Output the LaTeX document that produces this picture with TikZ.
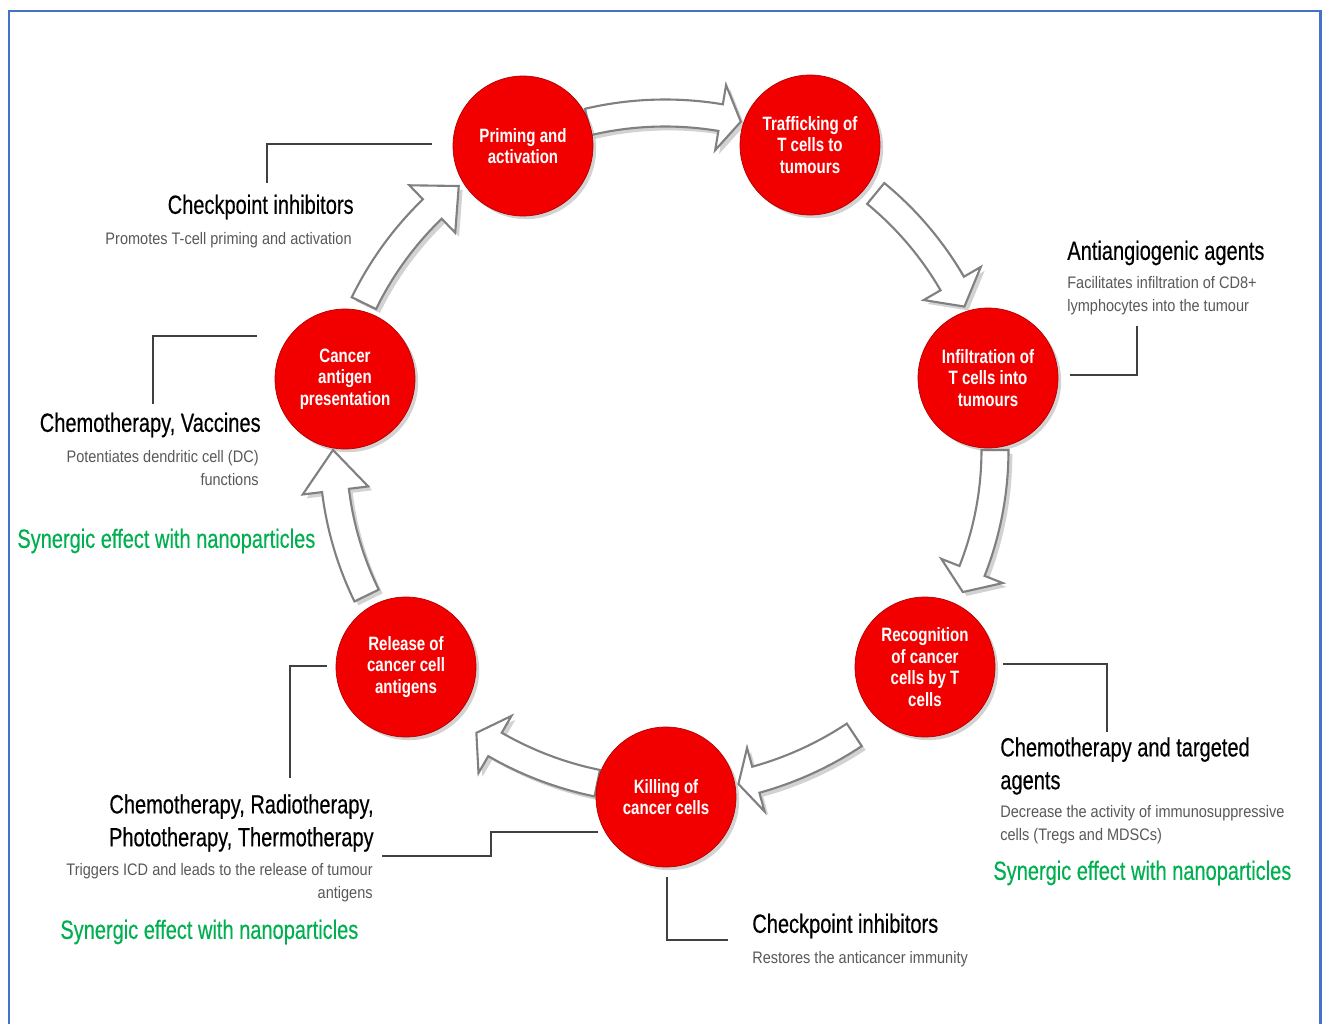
\documentclass[tikz,border=0pt]{standalone}
\usepackage{fontspec}
\setmainfont{Liberation Sans}
\newfontfamily\headfont{Liberation Sans}[FakeStretch=0.76,FakeBold=0.35]
\newfontfamily\descfont{Liberation Sans}[FakeStretch=0.87]
\newfontfamily\circfont{Liberation Sans}[FakeStretch=0.78]
\usetikzlibrary{shadows}
\definecolor{bordblue}{HTML}{4472C4}
\definecolor{cellred}{HTML}{F20000}
\definecolor{syngreen}{HTML}{00B050}
\definecolor{descgray}{HTML}{595959}
\definecolor{linegray}{HTML}{404040}
\definecolor{arrowgray}{HTML}{808080}
\newcommand{\cyclearrow}[4]{%
  \path[blockarr] plot[domain=#2:#3, samples=30] ({665+(#1+13.5)*cos(\x)},{450+(#1+13.5)*sin(\x)})
   -- ({665+(#1+33)*cos(#3)},{450+(#1+33)*sin(#3)})
   -- ({665+(#1)*cos(#4)},{450+(#1)*sin(#4)})
   -- ({665+(#1-33)*cos(#3)},{450+(#1-33)*sin(#3)})
   -- plot[domain=#3:#2, samples=30] ({665+(#1-13.5)*cos(\x)},{450+(#1-13.5)*sin(\x)}) -- cycle;}
\begin{document}
\begin{tikzpicture}[x=0.02cm,y=-0.02cm,
 cell/.style={circle, fill=cellred, draw=red!70!black, line width=0.4pt, minimum size=2.8cm, inner sep=0pt, align=center, text=white, font=\circfont\bfseries\fontsize{11}{12.3}\selectfont, drop shadow={opacity=0.35, shadow xshift=1.8pt, shadow yshift=-1.8pt}},
 blockarr/.style={fill=white, draw=arrowgray, line width=1.2pt, line join=miter, drop shadow={opacity=0.35, shadow xshift=2.2pt, shadow yshift=-2.2pt}},
 heading/.style={inner sep=0pt, font=\headfont\fontsize{15}{18.7}\selectfont},
 desc/.style={inner sep=0pt, text=descgray, font=\descfont\fontsize{9.5}{13}\selectfont},
 syn/.style={inner sep=0pt, text=syngreen, font=\headfont\fontsize{15}{18}\selectfont},
 conn/.style={draw=linegray, line width=1.1pt}
]
\useasboundingbox (0,0) rectangle (1322,1024);
\fill[white] (0,0) rectangle (1322,1024);
\draw[bordblue, line width=1.7pt] (9,1024) -- (9,11) -- (1320,11) -- (1320,1024);

% block arrows
\cyclearrow{337}{256.8}{279.5}{283}
\cyclearrow{332}{309.4}{329.9}{334.4}
\cyclearrow{330}{360}{381.5}{385.5}
\cyclearrow{342}{56.4}{74.6}{77.6}
\cyclearrow{340}{101.5}{120}{123.7}
\cyclearrow{332}{154}{173}{180}
\cyclearrow{335}{206}{226}{232}

% cells
\node[cell] (prime) at (523,146) {Priming and\\activation};
\node[cell] (traf) at (810,145) {Trafficking of\\T cells to\\tumours};
\node[cell] (infil) at (988,378) {Infiltration of\\T cells into\\tumours};
\node[cell] (recog) at (925,667) {Recognition\\of cancer\\cells by T\\cells};
\node[cell] (kill) at (666,797) {Killing of\\cancer cells};
\node[cell] (rel) at (406,667) {Release of\\cancer cell\\antigens};
\node[cell] (pres) at (345,379) {Cancer\\antigen\\presentation};

% labels
\node[heading, anchor=east] (ci1) at (354,207) {Checkpoint inhibitors};
\node[desc, anchor=east] (ci1d) at (352,240) {Promotes T-cell priming and activation};
\node[heading, anchor=west] (aa) at (1067,253) {Antiangiogenic agents};
\node[desc, anchor=west, align=left] (aad) at (1067,296) {Facilitates infiltration of CD8+\\lymphocytes into the tumour};
\node[heading, anchor=east] (cv) at (261,425) {Chemotherapy, Vaccines};
\node[desc, anchor=east, align=right] (cvd) at (259,468) {Potentiates dendritic cell (DC)\\functions};
\node[syn, anchor=west] (syn1) at (17,541) {Synergic effect with nanoparticles};
\node[heading, anchor=west, align=left] (ct) at (1000,766) {Chemotherapy and targeted\\agents};
\node[desc, anchor=west, align=left] (ctd) at (1000,825) {Decrease the activity of immunosuppressive\\cells (Tregs and MDSCs)};
\node[syn, anchor=west] (syn2) at (993,873) {Synergic effect with nanoparticles};
\node[heading, anchor=east, align=right] (cr) at (374,823) {Chemotherapy, Radiotherapy,\\Phototherapy, Thermotherapy};
\node[desc, anchor=east, align=right] (crd) at (373,883) {Triggers ICD and leads to the release of tumour\\antigens};
\node[syn, anchor=west] (syn3) at (60,932) {Synergic effect with nanoparticles};
\node[heading, anchor=west] (ci2) at (752,926) {Checkpoint inhibitors};
\node[desc, anchor=west] (ci2d) at (752,959) {Restores the anticancer immunity};

% connector coordinates
\coordinate (k1a) at (432,144); \coordinate (k1b) at (267,183);
\coordinate (k2a) at (1070,375); \coordinate (k2b) at (1137,326);
\coordinate (k3a) at (257,336); \coordinate (k3b) at (153,404);
\coordinate (k4a) at (1003,664); \coordinate (k4b) at (1107,732);
\coordinate (k5a) at (327,666); \coordinate (k5b) at (290,778);
\coordinate (k6a) at (382,856); \coordinate (k6m) at (491,832); \coordinate (k6b) at (598,832);
\coordinate (k7a) at (667,877); \coordinate (k7b) at (728,940);

\draw[conn] (k1a) -| (k1b);
\draw[conn] (k2a) -| (k2b);
\draw[conn] (k3a) -| (k3b);
\draw[conn] (k4a) -| (k4b);
\draw[conn] (k5a) -| (k5b);
\draw[conn] (k6a) -| (k6m) -- (k6b);
\draw[conn] (k7a) |- (k7b);
\end{tikzpicture}
\end{document}
